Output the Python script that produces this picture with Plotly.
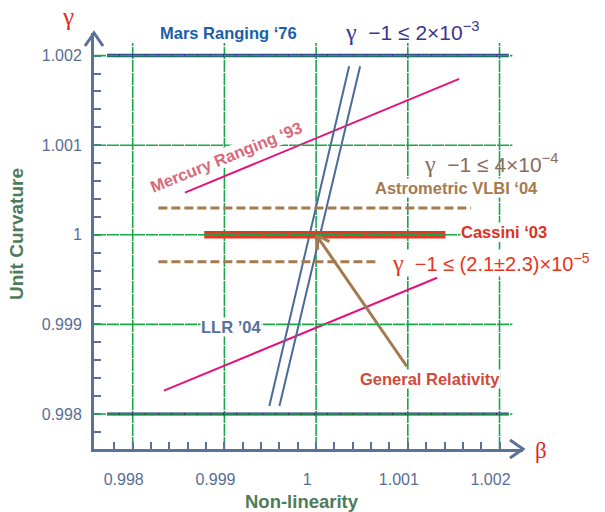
import math
import plotly.graph_objects as go

# ---------------- data ----------------
major_ticks = [0.998, 0.999, 1.0, 1.001, 1.002]
major_labels = ["0.998", "0.999", "1", "1.001", "1.002"]
minor_step = 0.0002

mars_beta = [0.99772, 1.0021]
mars_gamma = [1.002, 0.998]

mercury_upper_beta = [0.99857, 1.00156]
mercury_upper_gamma = [1.00047, 1.00174]
mercury_lower_beta = [0.99834, 1.00132]
mercury_lower_gamma = [0.99826, 0.99952]

llr_a_beta = [0.99949, 1.00036]
llr_b_beta = [0.99960, 1.00048]
llr_gamma = [0.99809, 1.00188]

vlbi_upper_beta = [0.99828, 1.00169]
vlbi_lower_beta = [0.99828, 1.00065]
vlbi_gamma = [1.0003, 0.9997]

cassini_beta = [0.99878, 1.00141]
cassini_gamma = 1.0

gr_point = (1.0, 1.0)
gr_tail = (1.00099, 0.99853)

grid_end = 1.00214

# ---------------- layout geometry ----------------
L, R, T, B = 94, 523, 33, 449
W, H = R - L, B - T
x_range = [0.997578, 1.002256]
y_range = [0.997609, 1.002252]
sx = W / (x_range[1] - x_range[0])
sy = H / (y_range[1] - y_range[0])

AX = "#5a7198"
TICK = "#566e96"
GREEN = "#1aa64b"

fig = go.Figure()

def line(xs, ys, color, width, dash=None):
    fig.add_trace(go.Scatter(x=xs, y=ys, mode="lines",
                             line=dict(color=color, width=width, dash=dash),
                             hoverinfo="skip", showlegend=False))

# Mars ranging
line(mars_beta, [mars_gamma[0]] * 2, "#3c3a98", 3.5)
line(mars_beta, [mars_gamma[1]] * 2, "#28336e", 3)
# Mercury ranging
line(mercury_upper_beta, mercury_upper_gamma, "#e5127d", 2)
line(mercury_lower_beta, mercury_lower_gamma, "#e5127d", 2)
# LLR
line(llr_a_beta, llr_gamma, "#4a6a98", 2)
line(llr_b_beta, llr_gamma, "#4a6a98", 2)
# VLBI
line(vlbi_upper_beta, [vlbi_gamma[0]] * 2, "#a57a4f", 3, "9px,4px")
line(vlbi_lower_beta, [vlbi_gamma[1]] * 2, "#a57a4f", 3, "9px,4px")
# Cassini
line(cassini_beta, [cassini_gamma] * 2, "#e33a26", 7.5)
# General relativity arrow shaft
line([gr_tail[0], gr_point[0]], [gr_tail[1], gr_point[1]], "#a27a4e", 3)

# arrow head chevron (computed in pixel space, converted to data)
dxp = (gr_tail[0] - gr_point[0]) * sx
dyp = (gr_tail[1] - gr_point[1]) * sy
n = math.hypot(dxp, dyp)
ux, uy = dxp / n, dyp / n
arm = 15
pts = []
for a in (math.radians(28), -math.radians(28)):
    vx = ux * math.cos(a) - uy * math.sin(a)
    vy = ux * math.sin(a) + uy * math.cos(a)
    pts.append((gr_point[0] + arm * vx / sx, gr_point[1] + arm * vy / sy))
fig.add_trace(go.Scatter(x=[pts[0][0], gr_point[0], pts[1][0]],
                         y=[pts[0][1], gr_point[1], pts[1][1]], mode="lines",
                         line=dict(color="#a27a4e", width=3), hoverinfo="skip",
                         showlegend=False))

# grid lines
for v in major_ticks:
    fig.add_shape(type="line", xref="x", yref="y", x0=v, x1=v,
                  y0=y_range[0], y1=grid_end, layer="below",
                  line=dict(color=GREEN, width=1.6, dash="12px,1px"))
    fig.add_shape(type="line", xref="x", yref="y", x0=x_range[0], x1=grid_end,
                  y0=v, y1=v, layer="above",
                  line=dict(color=GREEN, width=1.6, dash="12px,1px"))

# axis arrow chevrons (paper coords)
cdx, cdy = 13 / W, 9 / H
fig.add_shape(type="path", xref="paper", yref="paper",
              path=f"M {1 - cdx},{cdy} L 1,0 L {1 - cdx},{-cdy}",
              line=dict(color=AX, width=3))
cdx2, cdy2 = 9 / W, 13 / H
fig.add_shape(type="path", xref="paper", yref="paper",
              path=f"M {-cdx2},{1 - cdy2} L 0,1 L {cdx2},{1 - cdy2}",
              line=dict(color=AX, width=3))

# ticks
xt = [round(0.9978 + minor_step * i, 4) for i in range(22)]
yt = [round(0.9978 + minor_step * i, 4) for i in range(22)]
def ticktext(vals):
    out = []
    for v in vals:
        lab = ""
        for m, s in zip(major_ticks, major_labels):
            if abs(v - m) < 1e-7:
                lab = s
        out.append(lab)
    return out

axis_common = dict(showline=True, linecolor=AX, linewidth=3, ticks="inside",
                   ticklen=7, tickwidth=2, tickcolor=AX, showgrid=False,
                   zeroline=False, fixedrange=True,
                   tickfont=dict(family="Liberation Sans", size=16, color=TICK))
fig.update_xaxes(range=x_range, tickvals=xt, ticktext=ticktext(xt),
                 ticklabelshift=-9, ticklabelstandoff=14, **axis_common)
fig.update_yaxes(range=y_range, tickvals=yt, ticktext=ticktext(yt),
                 ticklabelstandoff=6, **axis_common)

def lab(text, px, py, color, size, family="Liberation Sans", angle=0, bg=None):
    fig.add_annotation(x=(px - L) / W, y=(B - py) / H, xref="paper", yref="paper",
                       text=text, showarrow=False, textangle=angle,
                       font=dict(family=family, size=size, color=color),
                       bgcolor=bg, borderpad=0, xanchor="center", yanchor="middle")

SER = '<span style="font-family:Liberation Serif;font-size:24px">γ</span>'
lab("γ", 68, 17, "#e02a1f", 25, family="Liberation Serif")
lab("β", 541, 450, "#e02a1f", 23, family="Liberation Serif")
lab("<b>Mars Ranging ‘76</b>", 228, 33, "#1a5ea8", 16.5)
lab(SER + "  −1 ≤ 2×10<sup>−3</sup>", 412, 32, "#3a3592", 21)
lab("<b>Mercury Ranging ‘93</b>", 226, 157, "#d9687a", 16.5, angle=-22, bg="white")
lab(SER + "  −1 ≤ 4×10<sup>−4</sup>", 491, 163, "#8b6a5c", 21)
lab("<b>Astrometric VLBI ‘04</b>", 456, 188, "#a47a4e", 16.5, bg="white")
lab("<b>Cassini ‘03</b>", 504, 232, "#e0301e", 16.5, bg="white")
lab(SER + "  −1 ≤ (2.1±2.3)×10<sup>−5</sup>", 491, 263, "#e8341c", 20, bg="white")
lab("<b>LLR ’04</b>", 231, 327, "#56719a", 16.5, bg="white")
lab("<b>General Relativity</b>", 430, 379, "#d24a3c", 16.5, bg="white")
lab("<b>Unit Curvature</b>", 17, 234, "#4e7b5a", 19, angle=-90)
lab("<b>Non-linearity</b>", 302, 501, "#4e7b5a", 18.5)

fig.update_layout(width=605, height=512, margin=dict(l=L, r=605 - R, t=T, b=512 - B),
                  plot_bgcolor="white", paper_bgcolor="white", showlegend=False)

fig.write_html("out.html", config={"displayModeBar": False},
               post_script="document.body.style.margin='0';document.body.style.overflow='hidden';")
